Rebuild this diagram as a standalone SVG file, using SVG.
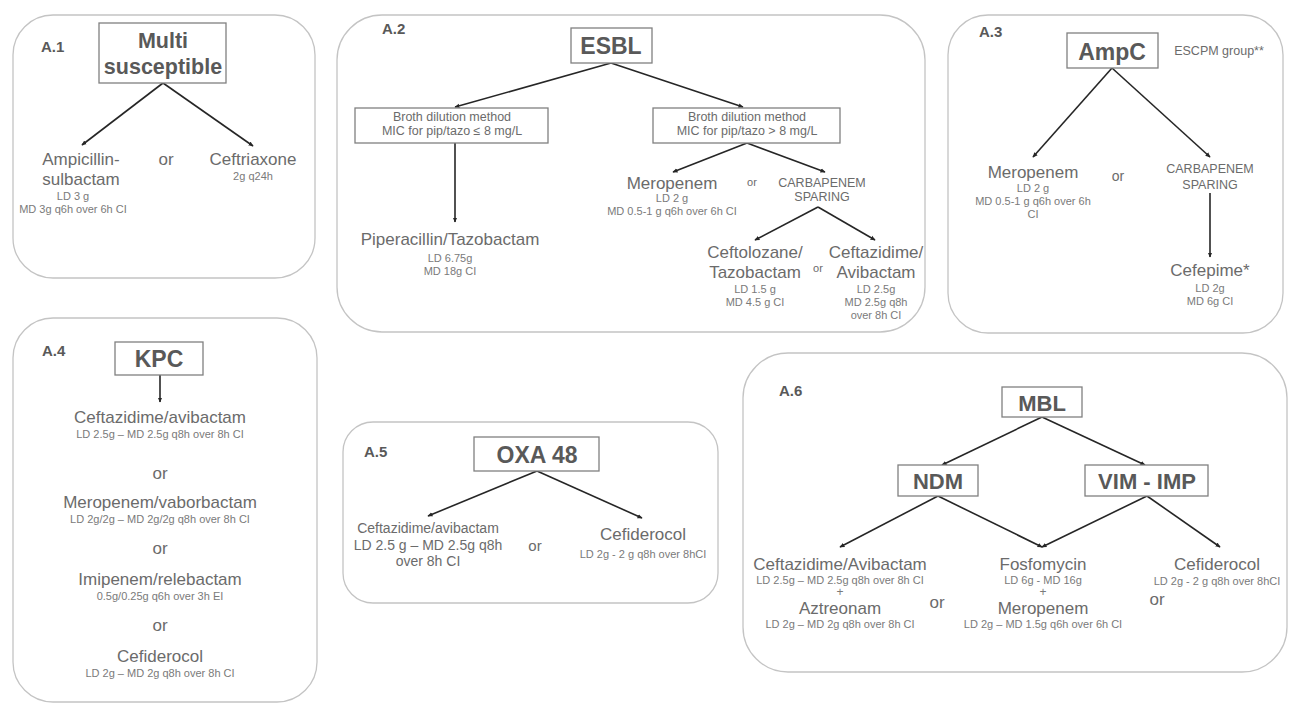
<svg xmlns="http://www.w3.org/2000/svg" width="1292" height="704" viewBox="0 0 1292 704">
<defs>
<marker id="ah" viewBox="0 0 10 10" refX="8" refY="5" markerWidth="3.5" markerHeight="3.5" orient="auto" markerUnits="strokeWidth">
<path d="M0,1 L9,5 L0,9 z" fill="#262626"/>
</marker>
<style>
text{font-family:"Liberation Sans",Arial,sans-serif;text-anchor:middle}
.panel{fill:#fff;stroke:#c4c4c4;stroke-width:1.3}
.box{fill:#fff;stroke:#808080;stroke-width:1.3}
.lbl{font-size:15px;font-weight:bold;fill:#595959;text-anchor:start}
.ttl{font-size:23px;font-weight:bold;fill:#595959}
.drug{font-size:17px;fill:#6b6b6b}
.sm{font-size:11px;fill:#7a7a7a}
.plus{font-size:12px;fill:#7a7a7a}
.mid{font-size:12.5px;fill:#6b6b6b}
.or{font-size:17px;fill:#6b6b6b}
.con line{stroke:#262626;stroke-width:1.6;marker-end:url(#ah)}
</style>
</defs>
<rect width="1292" height="704" fill="#fff"/>

<!-- Panels -->
<g id="panelA1"><rect class="panel" x="13" y="15" width="302" height="263" rx="40"/><text class="lbl" x="41" y="52">A.1</text></g>
<g id="panelA2"><rect class="panel" x="337" y="15" width="588" height="317" rx="45"/><text class="lbl" x="382" y="34">A.2</text></g>
<g id="panelA3"><rect class="panel" x="948" y="15" width="335" height="318" rx="40"/><text class="lbl" x="979" y="37">A.3</text></g>
<g id="panelA4"><rect class="panel" x="13" y="318" width="304" height="384" rx="40"/><text class="lbl" x="42" y="356">A.4</text></g>
<g id="panelA5"><rect class="panel" x="343" y="422" width="375" height="181" rx="30"/><text class="lbl" x="364" y="457">A.5</text></g>
<g id="panelA6"><rect class="panel" x="743" y="353" width="544" height="319" rx="45"/><text class="lbl" x="779" y="396">A.6</text></g>

<!-- Connectors -->
<g id="connectors" class="con">
<line x1="163" y1="83" x2="82" y2="145"/>
<line x1="163" y1="83" x2="253" y2="146"/>
<line x1="611" y1="63" x2="455" y2="107"/>
<line x1="611" y1="63" x2="743" y2="107"/>
<line x1="455" y1="143" x2="455" y2="222"/>
<line x1="747" y1="143" x2="673" y2="172"/>
<line x1="747" y1="143" x2="825" y2="172"/>
<line x1="818" y1="207" x2="755" y2="240"/>
<line x1="818" y1="207" x2="875" y2="240"/>
<line x1="1112" y1="68" x2="1033" y2="157"/>
<line x1="1112" y1="68" x2="1210" y2="157"/>
<line x1="1210" y1="193" x2="1210" y2="257"/>
<line x1="160" y1="375" x2="160" y2="402"/>
<line x1="537" y1="471" x2="428" y2="516"/>
<line x1="537" y1="471" x2="642" y2="518"/>
<line x1="1042" y1="417" x2="942" y2="465"/>
<line x1="1042" y1="417" x2="1145" y2="465"/>
<line x1="938" y1="496" x2="840" y2="547"/>
<line x1="938" y1="496" x2="1042" y2="547"/>
<line x1="1147" y1="496" x2="1042" y2="547"/>
<line x1="1147" y1="496" x2="1220" y2="547"/>
</g>

<!-- A.1 -->
<g id="multi"><rect class="box" x="99" y="23" width="127" height="60"/><text class="ttl" x="163" y="48" style="font-size:21.5px">Multi</text><text class="ttl" x="163" y="74" style="font-size:21.5px">susceptible</text></g>
<g id="ampsulb"><text class="drug" x="81" y="165">Ampicillin-</text><text class="drug" x="81" y="185">sulbactam</text><text class="sm" x="73" y="200">LD 3 g</text><text class="sm" x="73" y="213">MD 3g q6h over 6h CI</text></g>
<g id="or1"><text class="or" x="166" y="165">or</text></g>
<g id="ceftriaxone"><text class="drug" x="253" y="165">Ceftriaxone</text><text class="sm" x="253" y="180">2g q24h</text></g>

<!-- A.2 -->
<g id="esbl"><rect class="box" x="571" y="28" width="81" height="35"/><text class="ttl" x="611" y="54">ESBL</text></g>
<g id="brothLe"><rect class="box" x="355" y="108" width="193" height="35"/><text class="mid" x="452" y="121">Broth dilution method</text><text class="mid" x="452" y="135">MIC for pip/tazo ≤ 8 mg/L</text></g>
<g id="brothGt"><rect class="box" x="653" y="108" width="187" height="35"/><text class="mid" x="747" y="121">Broth dilution method</text><text class="mid" x="747" y="135">MIC for pip/tazo &gt; 8 mg/L</text></g>
<g id="piptazo"><text class="drug" x="450" y="245">Piperacillin/Tazobactam</text><text class="sm" x="450" y="262">LD 6.75g</text><text class="sm" x="450" y="275">MD 18g CI</text></g>
<g id="mero2"><text class="drug" x="672" y="189">Meropenem</text><text class="sm" x="672" y="202">LD 2 g</text><text class="sm" x="672" y="215">MD 0.5-1 g q6h over 6h CI</text></g>
<g id="or2"><text class="mid" x="752" y="186" style="font-size:11px">or</text></g>
<g id="sparing2"><text class="mid" x="822" y="187">CARBAPENEM</text><text class="mid" x="822" y="201">SPARING</text></g>
<g id="ceftoloz"><text class="drug" x="755" y="258">Ceftolozane/</text><text class="drug" x="755" y="278">Tazobactam</text><text class="sm" x="755" y="293">LD 1.5 g</text><text class="sm" x="755" y="306">MD 4.5 g CI</text></g>
<g id="or2b"><text class="mid" x="818" y="272" style="font-size:11px">or</text></g>
<g id="ceftaz2"><text class="drug" x="876" y="258">Ceftazidime/</text><text class="drug" x="876" y="278">Avibactam</text><text class="sm" x="876" y="293">LD 2.5g</text><text class="sm" x="876" y="306">MD 2.5g q8h</text><text class="sm" x="876" y="319">over 8h CI</text></g>

<!-- A.3 -->
<g id="ampc"><rect class="box" x="1067" y="33" width="91" height="35"/><text class="ttl" x="1112" y="60">AmpC</text></g>
<g id="escpm"><text class="mid" x="1219" y="55">ESCPM group**</text></g>
<g id="mero3"><text class="drug" x="1033" y="178">Meropenem</text><text class="sm" x="1033" y="192">LD 2 g</text><text class="sm" x="1033" y="205">MD 0.5-1 g q6h over 6h</text><text class="sm" x="1033" y="218">CI</text></g>
<g id="or3"><text class="mid" x="1118" y="181" style="font-size:14px">or</text></g>
<g id="sparing3"><text class="mid" x="1210" y="173">CARBAPENEM</text><text class="mid" x="1210" y="189">SPARING</text></g>
<g id="cefepime"><text class="drug" x="1210" y="276">Cefepime*</text><text class="sm" x="1210" y="292">LD 2g</text><text class="sm" x="1210" y="305">MD 6g CI</text></g>

<!-- A.4 -->
<g id="kpc"><rect class="box" x="115" y="342" width="88" height="33"/><text class="ttl" x="159" y="367">KPC</text></g>
<g id="kpcList">
<text class="drug" x="160" y="423">Ceftazidime/avibactam</text><text class="sm" x="160" y="438">LD 2.5g – MD 2.5g q8h over 8h CI</text>
<text class="or" x="160" y="479">or</text>
<text class="drug" x="160" y="508">Meropenem/vaborbactam</text><text class="sm" x="160" y="523">LD 2g/2g – MD 2g/2g q8h over 8h CI</text>
<text class="or" x="160" y="554">or</text>
<text class="drug" x="160" y="585">Imipenem/relebactam</text><text class="sm" x="160" y="600">0.5g/0.25g q6h over 3h EI</text>
<text class="or" x="160" y="631">or</text>
<text class="drug" x="160" y="662">Cefiderocol</text><text class="sm" x="160" y="677">LD 2g – MD 2g q8h over 8h CI</text>
</g>

<!-- A.5 -->
<g id="oxa48"><rect class="box" x="474" y="437" width="125" height="34"/><text class="ttl" x="537" y="463">OXA 48</text></g>
<g id="ceftaz5"><text class="drug" x="428" y="533" style="font-size:14px">Ceftazidime/avibactam</text><text class="drug" x="428" y="550" style="font-size:14px">LD 2.5 g – MD 2.5g q8h</text><text class="drug" x="428" y="566" style="font-size:14px">over 8h CI</text></g>
<g id="or5"><text class="drug" x="535" y="551" style="font-size:15px">or</text></g>
<g id="cefid5"><text class="drug" x="643" y="540">Cefiderocol</text><text class="sm" x="643" y="558">LD 2g - 2 g q8h over 8hCI</text></g>

<!-- A.6 -->
<g id="mbl"><rect class="box" x="1002" y="387" width="80" height="30"/><text class="ttl" x="1042" y="411" style="font-size:22px">MBL</text></g>
<g id="ndm"><rect class="box" x="898" y="465" width="80" height="31"/><text class="ttl" x="938" y="489" style="font-size:22px">NDM</text></g>
<g id="vimimp"><rect class="box" x="1085" y="465" width="123" height="31"/><text class="ttl" x="1147" y="489" style="font-size:22px">VIM - IMP</text></g>
<g id="ceftazAzt"><text class="drug" x="840" y="570">Ceftazidime/Avibactam</text><text class="sm" x="840" y="584">LD 2.5g – MD 2.5g q8h over 8h CI</text><text class="plus" x="840" y="596">+</text><text class="drug" x="840" y="614">Aztreonam</text><text class="sm" x="840" y="628">LD 2g – MD 2g q8h over 8h CI</text></g>
<g id="or6a"><text class="or" x="937" y="608">or</text></g>
<g id="fosfoMero"><text class="drug" x="1043" y="570">Fosfomycin</text><text class="sm" x="1043" y="584">LD 6g - MD 16g</text><text class="plus" x="1043" y="596">+</text><text class="drug" x="1043" y="614">Meropenem</text><text class="sm" x="1043" y="628">LD 2g – MD 1.5g q6h over 6h CI</text></g>
<g id="or6b"><text class="or" x="1157" y="605">or</text></g>
<g id="cefid6"><text class="drug" x="1217" y="570">Cefiderocol</text><text class="sm" x="1217" y="585">LD 2g - 2 g q8h over 8hCI</text></g>
</svg>
